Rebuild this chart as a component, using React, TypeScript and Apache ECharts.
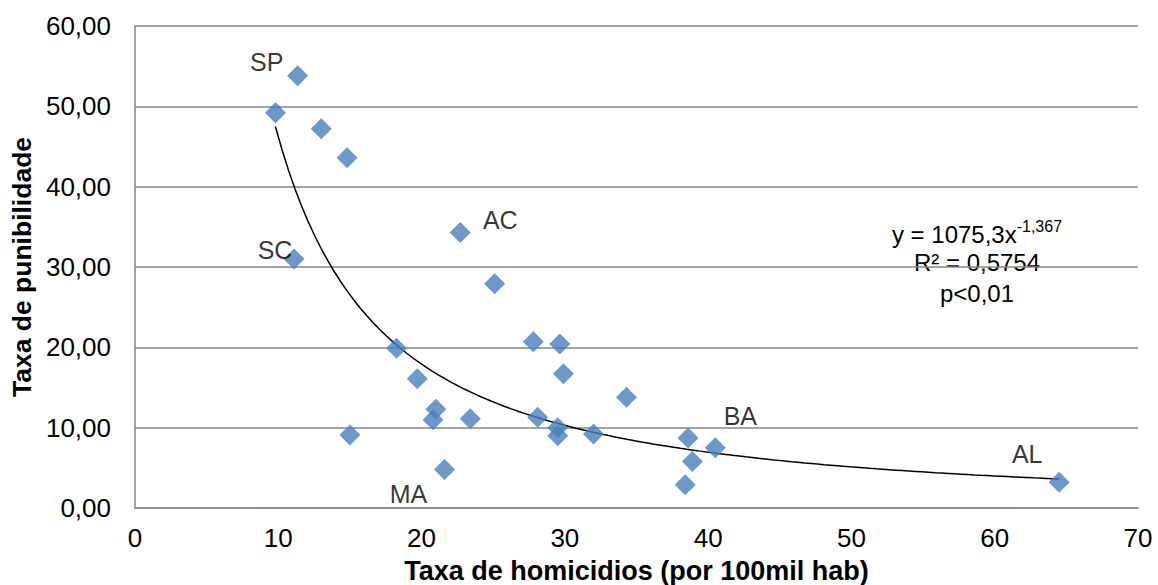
import React, { useEffect, useRef } from "react";
import * as echarts from "echarts";

// Homicide rate (per 100k) for each state
const homicideRate = [
  9.8, 11.35, 13.0, 14.8, 11.1, 22.7, 25.1, 18.25, 19.7, 21.0, 20.8, 23.4, 15.0, 21.6,
  27.8, 29.65, 29.9, 28.1, 29.5, 29.5, 32.0, 34.3, 38.6, 40.5, 38.9, 38.4, 64.5,
];
// Punibility rate for each state
const punibilityRate = [
  49.2, 53.8, 47.2, 43.6, 31.0, 34.3, 27.9, 19.9, 16.1, 12.3, 11.0, 11.1, 9.1, 4.8,
  20.7, 20.4, 16.7, 11.3, 10.0, 9.0, 9.2, 13.8, 8.7, 7.5, 5.8, 2.9, 3.2,
];
// State labels shown next to some points
const stateLabels = [
  "", "SP", "", "", "SC", "AC", "", "", "", "", "", "", "", "MA",
  "", "", "", "", "", "", "", "", "", "BA", "", "", "AL",
];
// Label offsets (px) relative to their points
const labelOffsets: Record<string, [number, number]> = {
  SP: [-31, -14],
  SC: [-19, -9],
  AC: [40, -12],
  MA: [-36, 25],
  BA: [25, -32],
  AL: [-32, -28],
};

// Power trendline as printed in the chart: y = 1075,3 x^-1,367
const trendA = 1075.3;
const trendB = -1.367;

const xTicks = [0, 70, 10];
const yTicks = [0, 60, 10];

const FONT = "'Liberation Sans', Arial, sans-serif";

export default function App() {
  const ref = useRef<HTMLDivElement>(null);

  useEffect(() => {
    if (!ref.current) return;
    const chart = echarts.init(ref.current, undefined, { renderer: "svg" });

    const xMin = Math.min(...homicideRate);
    const xMax = Math.max(...homicideRate);
    const trend: number[][] = [];
    const steps = 120;
    for (let i = 0; i <= steps; i++) {
      const x = xMin + ((xMax - xMin) * i) / steps;
      trend.push([x, trendA * Math.pow(x, trendB)]);
    }

    const scatterData = homicideRate.map((x, i) => {
      const lab = stateLabels[i];
      const item: any = { value: [x, punibilityRate[i]] };
      if (lab) {
        item.label = {
          show: true,
          formatter: lab,
          position: "inside",
          offset: labelOffsets[lab],
          color: "#000",
          fontSize: 25,
          fontFamily: FONT,
        };
      }
      return item;
    });

    chart.setOption({
      animation: false,
      backgroundColor: "#fff",
      grid: { left: 135, right: 20, top: 26, bottom: 77, containLabel: false, outerBoundsMode: "none" },
      xAxis: {
        type: "value",
        min: xTicks[0],
        max: xTicks[1],
        interval: xTicks[2],
        name: "Taxa de homicidios (por 100mil hab)",
        nameLocation: "middle",
        nameGap: 49,
        nameTextStyle: { fontFamily: FONT, fontSize: 27, fontWeight: "bold", color: "#000" },
        axisLine: { show: true, lineStyle: { color: "#868686", width: 1.5 } },
        axisTick: { show: false },
        splitLine: { show: false },
        axisLabel: { fontFamily: FONT, fontSize: 26, color: "#000", margin: 17 },
      },
      yAxis: {
        type: "value",
        min: yTicks[0],
        max: yTicks[1],
        interval: yTicks[2],
        name: "Taxa de punibilidade",
        nameLocation: "middle",
        nameGap: 100,
        nameRotate: 90,
        nameTextStyle: { fontFamily: FONT, fontSize: 26.5, fontWeight: "bold", color: "#000" },
        axisLine: { show: true, lineStyle: { color: "#868686", width: 1.5 } },
        axisTick: { show: false },
        splitLine: { show: true, lineStyle: { color: "#868686", width: 1.5 } },
        axisLabel: {
          fontFamily: FONT,
          fontSize: 26,
          color: "#000",
          margin: 24,
          formatter: (v: number) => v.toFixed(2).replace(".", ","),
        },
      },
      series: [
        {
          type: "line",
          data: trend,
          showSymbol: false,
          smooth: false,
          lineStyle: { color: "#000", width: 1.5 },
          z: 3,
          silent: true,
        },
        {
          type: "scatter",
          data: scatterData,
          symbol: "diamond",
          symbolSize: [21, 21],
          itemStyle: { color: "#4A7EBB" },
          z: 4,
        },
      ],
      graphic: [
        {
          type: "text",
          x: 977,
          y: 232,
          style: {
            text: "{a|y = 1075,3x}{s|-1,367}",
            rich: {
              a: { fontFamily: FONT, fontSize: 24, fill: "#000", verticalAlign: "bottom" } as any,
              s: { fontFamily: FONT, fontSize: 16, fill: "#000", verticalAlign: "top", padding: [0, 0, 12, 0] } as any,
            },
            align: "center",
            verticalAlign: "middle",
          } as any,
        },
        {
          type: "text",
          x: 977,
          y: 262,
          style: {
            text: "R² = 0,5754",
            fontFamily: FONT,
            fontSize: 24,
            fill: "#000",
            align: "center",
            verticalAlign: "middle",
          },
        },
        {
          type: "text",
          x: 977,
          y: 293,
          style: {
            text: "p<0,01",
            fontFamily: FONT,
            fontSize: 24,
            fill: "#000",
            align: "center",
            verticalAlign: "middle",
          },
        },
      ],
    });

    return () => chart.dispose();
  }, []);

  return <div ref={ref} style={{ width: 1158, height: 585, position: "absolute", left: 0, top: 0 }} />;
}
